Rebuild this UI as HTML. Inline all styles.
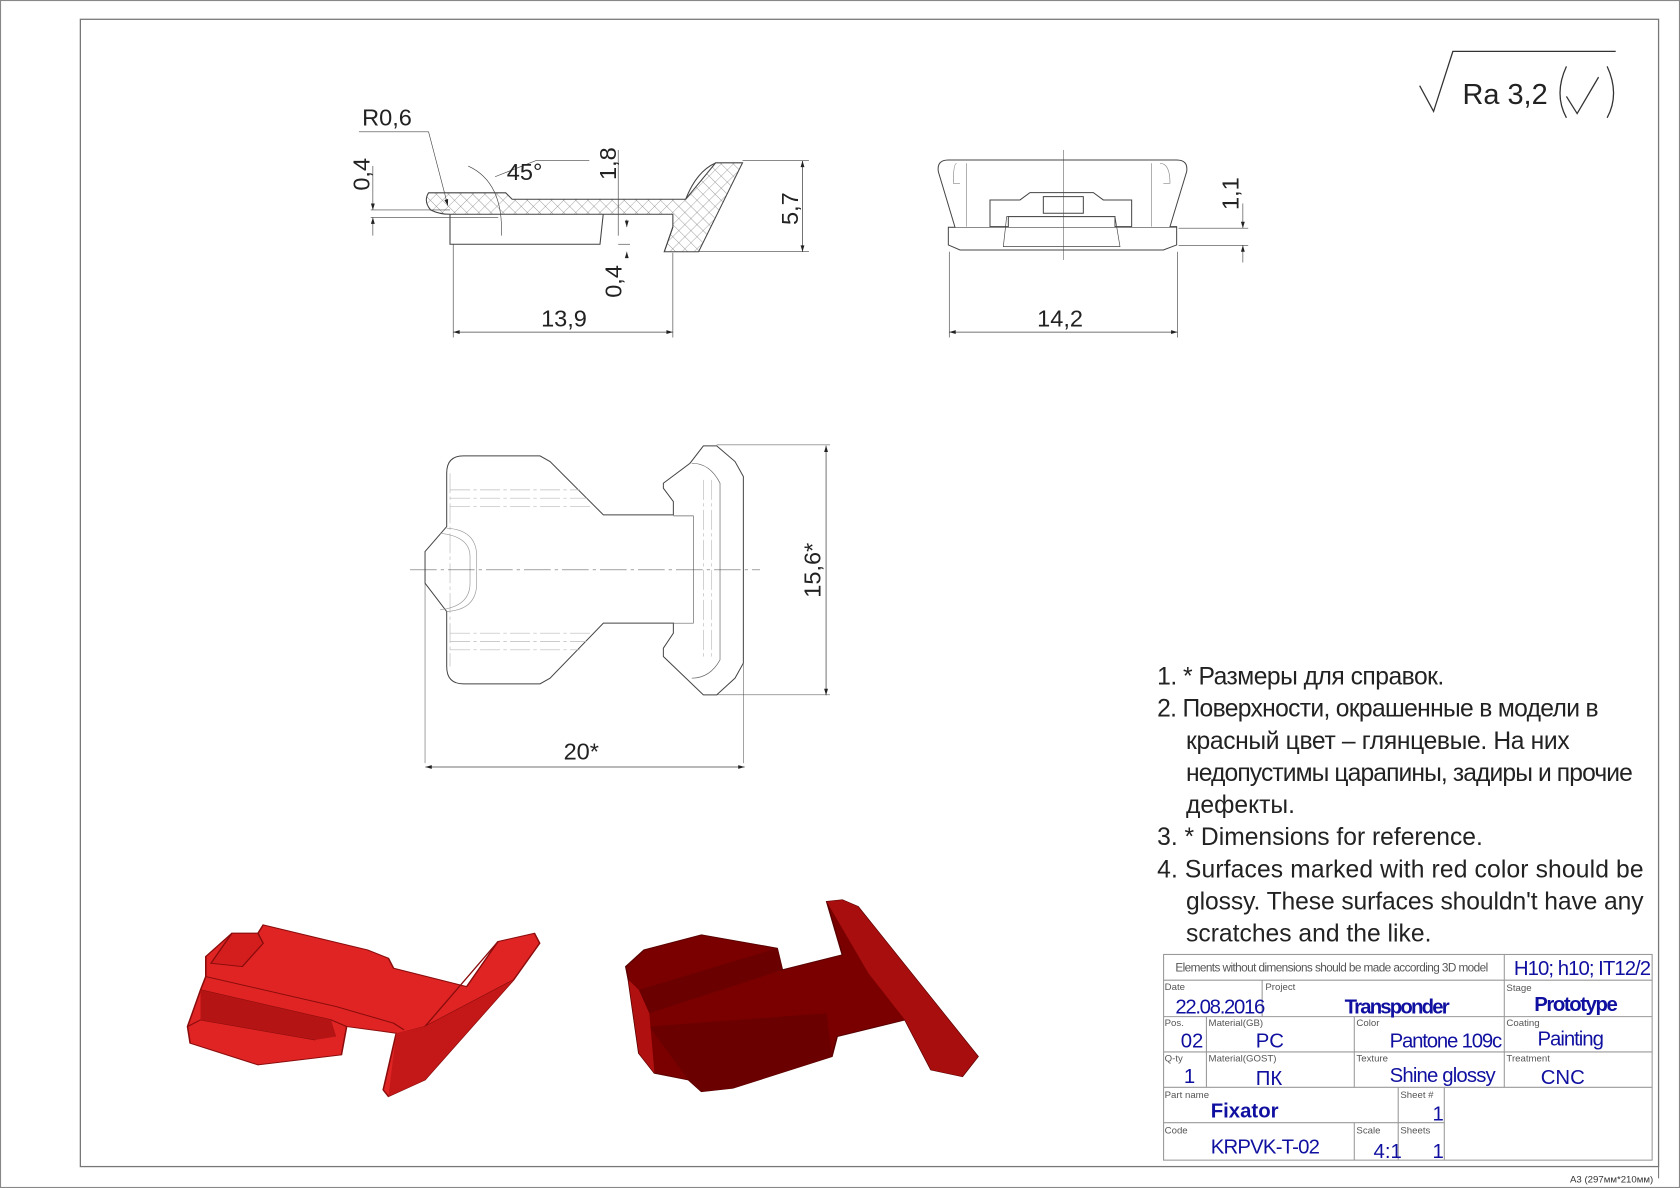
<!DOCTYPE html>
<html><head><meta charset="utf-8"><style>
html,body{margin:0;padding:0;background:#fff;}
svg{display:block;}
text{font-family:"Liberation Sans Narrow","Liberation Sans",sans-serif;}
</style></head><body>
<svg width="1680" height="1188" viewBox="0 0 1568 1109" preserveAspectRatio="none" xmlns="http://www.w3.org/2000/svg">
<defs>
<pattern id="hx" width="8" height="8" patternUnits="userSpaceOnUse" patternTransform="rotate(45)">
<path d="M0 0H8M0 0V8" stroke="#777" stroke-width="0.6"/>
</pattern>
<marker id="ar" viewBox="0 0 10 10" refX="10" refY="5" markerWidth="10" markerHeight="6" orient="auto-start-reverse" markerUnits="userSpaceOnUse"><path d="M0 2L10 5L0 8z" fill="#222"/></marker>
</defs>
<rect x="0.5" y="0.5" width="1567" height="1108" fill="#fff" stroke="#888"/>
<rect x="75" y="18" width="1473" height="1071" fill="none" stroke="#777" stroke-width="1.2"/>
<line x1="1548" y1="1089" x2="1548" y2="1100" stroke="#777"/>
<text x="1543" y="1104" font-size="9" fill="#333" text-anchor="end">A3 (297мм*210мм)</text>

<g stroke="#333" fill="none" stroke-width="1.2">
<path d="M1325 80L1338 104L1356 48H1508"/>
<path d="M1462 62Q1450 88 1462 110M1500 62Q1512 88 1500 110M1462 90L1472 106L1492 72"/>
</g>
<text x="1365" y="97" font-size="27" fill="#222">Ra 3,2</text>

<g stroke="#444" stroke-width="1" fill="none">
<path d="M400 180H472L478 186H640L668 152H693L652 235H620L628 212L628 200H420Q410 200 402 196Q395 188 400 180Z" fill="url(#hx)"/>
<path d="M420 200V228H560L563 200"/>
<path d="M620 235L628 212"/>
<path d="M640 186Q650 160 668 152"/>
<line x1="423" y1="228" x2="423" y2="315" stroke-width="0.6"/>
<line x1="628" y1="236" x2="628" y2="315" stroke-width="0.6"/>
<line x1="423" y1="310" x2="628" y2="310" stroke-width="0.7" marker-start="url(#ar)" marker-end="url(#ar)"/>
<line x1="693" y1="150" x2="755" y2="150" stroke-width="0.6"/>
<line x1="652" y1="235" x2="755" y2="235" stroke-width="0.6"/>
<line x1="749" y1="150" x2="749" y2="235" stroke-width="0.7" marker-start="url(#ar)" marker-end="url(#ar)"/>
<line x1="346" y1="196" x2="420" y2="196" stroke-width="0.6"/>
<line x1="346" y1="203" x2="465" y2="203" stroke-width="0.6"/>
<line x1="348" y1="155" x2="348" y2="196" stroke-width="0.6" marker-end="url(#ar)"/>
<line x1="348" y1="220" x2="348" y2="203" stroke-width="0.6" marker-end="url(#ar)"/>
<line x1="577" y1="140" x2="577" y2="220" stroke-width="0.6"/>
<line x1="577" y1="228" x2="588" y2="228" stroke-width="0.6"/>
<line x1="585" y1="240" x2="585" y2="235" stroke-width="0.6" marker-end="url(#ar)"/>
<line x1="585" y1="205" x2="585" y2="212" stroke-width="0.6" marker-end="url(#ar)"/>
<path d="M335 123H400L418 192" stroke-width="0.6" marker-end="url(#ar)"/>
<path d="M437 155Q470 170 468 220" stroke-width="0.6"/>
<path d="M462 165L500 150H550" stroke-width="0.6"/>
</g>
<text x="338" y="117" font-size="22" fill="#222">R0,6</text>
<text x="473" y="168" font-size="22" fill="#222">45°</text>
<text x="505" y="305" font-size="22" fill="#222">13,9</text>
<text transform="translate(345,178) rotate(-90)" font-size="22" fill="#222">0,4</text>
<text transform="translate(575,168) rotate(-90)" font-size="22" fill="#222">1,8</text>
<text transform="translate(580,278) rotate(-90)" font-size="22" fill="#222">0,4</text>
<text transform="translate(745,210) rotate(-90)" font-size="22" fill="#222">5,7</text>

<g transform="translate(868,140) scale(0.3111)" stroke="#444" stroke-width="3" fill="none">
<path d="M55 30H740Q775 30 770 65L720 230H740V285L700 300H90L55 285V232H75L25 65Q20 30 55 30Z"/>
<path d="M80 40Q70 40 70 100L90 100M110 40V230M690 40Q720 40 720 100L700 100M665 40V230" stroke-width="2" stroke="#888"/>
<path d="M180 230V150H270L300 128H490L520 150H605V230H555V200H235V230Z"/>
<path d="M340 140H460V190H340Z"/>
<path d="M230 200H555L570 290H220Z" stroke-width="2"/>
<line x1="400" y1="0" x2="400" y2="330" stroke-width="1.5"/>
<line x1="55" y1="232" x2="740" y2="232" stroke-width="2"/>
</g>
<g stroke="#444" fill="none" stroke-width="0.6">
<line x1="886" y1="235" x2="886" y2="315"/>
<line x1="1099" y1="235" x2="1099" y2="315"/>
<line x1="886" y1="310" x2="1099" y2="310" stroke-width="0.7" marker-start="url(#ar)" marker-end="url(#ar)"/>
<line x1="1100" y1="213" x2="1165" y2="213"/>
<line x1="1100" y1="229" x2="1165" y2="229"/>
<line x1="1160" y1="190" x2="1160" y2="213" marker-end="url(#ar)"/>
<line x1="1160" y1="245" x2="1160" y2="229" marker-end="url(#ar)"/>
</g>
<text x="968" y="305" font-size="22" fill="#222">14,2</text>
<text transform="translate(1156,196) rotate(-90)" font-size="22" fill="#222">1,1</text>

<g transform="translate(382.7,401.3) scale(0.3111)" stroke="#444" stroke-width="3" fill="none">
<path d="M110 130Q110 78 160 78H390L420 95L580 255H790V215L760 175V160L840 100L880 48H920L975 95L1000 140V700L975 745L920 795H880L760 680V655L790 610V580H580L420 745L390 762H160Q110 762 110 710V545L45 460V365L110 290Z"/>
<path d="M845 100Q900 100 930 160V690Q900 745 845 745M790 258H850V580H790" stroke="#666" stroke-width="2"/>
<path d="M120 180H510M120 205H530M120 230H545M120 610H545M120 635H530M120 660H510M120 130V710M880 150V690M905 150V690" stroke="#bbb" stroke-width="2" stroke-dasharray="60 10 10 10"/>
<path d="M110 295Q200 300 200 380V460Q200 540 110 545M90 310Q180 320 180 380V460Q180 530 90 540" stroke="#999" stroke-width="2"/>
<line x1="0" y1="420" x2="1050" y2="420" stroke-width="1.5" stroke-dasharray="80 12 10 12"/>
<line x1="45" y1="460" x2="45" y2="1000" stroke-width="1.5"/>
<line x1="1000" y1="700" x2="1000" y2="1000" stroke-width="1.5"/>
<line x1="920" y1="45" x2="1260" y2="45" stroke-width="1.5"/>
<line x1="920" y1="795" x2="1260" y2="795" stroke-width="1.5"/>
</g>
<g stroke="#444" fill="none">
<line x1="771" y1="416" x2="771" y2="649" stroke-width="0.7" marker-start="url(#ar)" marker-end="url(#ar)"/>
<line x1="397" y1="716" x2="695" y2="716" stroke-width="0.7" marker-start="url(#ar)" marker-end="url(#ar)"/>
</g>
<text transform="translate(766,558) rotate(-90)" font-size="22" fill="#222">15,6*</text>
<text x="526" y="709" font-size="22" fill="#222">20*</text>

<g font-size="23" fill="#222">
<text x="1080" y="639" textLength="268">1.  * Размеры для справок.</text>
<text x="1080" y="669" textLength="412">2.  Поверхности, окрашенные в модели в</text>
<text x="1107" y="699" textLength="358">красный цвет – глянцевые. На них</text>
<text x="1107" y="729" textLength="417">недопустимы царапины, задиры и прочие</text>
<text x="1107" y="759">дефекты.</text>
<text x="1080" y="789" textLength="304">3.  * Dimensions for reference.</text>
<text x="1080" y="819" textLength="454">4.  Surfaces marked with red color should be</text>
<text x="1107" y="849" textLength="427">glossy. These surfaces shouldn't have any</text>
<text x="1107" y="879" textLength="229">scratches and the like.</text>
</g>

<g transform="translate(167.7,821.4) scale(0.487,0.3111)">
<path d="M15 440L40 330L50 290L50 230L100 160L150 160L160 135L360 210L400 235L410 265L550 320L610 185L680 160L690 190L640 300L470 600L400 650L390 630L415 460L320 440L310 525L150 555L20 490Z" fill="#e02424" stroke="#8a0c0c" stroke-width="3"/>
<path d="M40 330L290 420L320 440M50 290L300 380L410 430L430 450M15 440L40 420L260 480M420 460L470 440L610 185M470 440L640 300" fill="none" stroke="#8a0c0c" stroke-width="3"/>
<path d="M40 330L290 420L300 470L260 480L40 420Z" fill="#b51414"/>
<path d="M415 460L470 440L640 300L470 600L400 650Z" fill="#c41818"/>
<path d="M100 160L150 160L160 190L120 260L60 250Z" fill="#d41e1e" stroke="#8a0c0c" stroke-width="3"/>
</g>
<g transform="translate(167.7,821.4) scale(0.487,0.3111)">
<path d="M855 260L890 210L1000 165L1145 205L1155 270L1270 225L1240 65L1270 60L1300 80L1530 530L1500 590L1440 570L1390 420L1260 470L1250 530L1060 625L1000 635L975 600L910 580L880 520L860 300Z" fill="#7a0000" stroke="#5a0000" stroke-width="3"/>
<path d="M1240 65L1270 60L1300 80L1530 530L1500 590L1440 570L1390 420L1320 280Z" fill="#a80e0e"/>
<path d="M880 330L1145 205L1155 270L900 400ZM900 440L1240 400L1250 530L1060 625L1000 635L975 600Z" fill="#6a0000"/>
<path d="M860 300L880 330L900 400L910 580L880 520Z" fill="#b01010"/>
</g>

<g stroke="#999" stroke-width="1" fill="none">
<rect x="1086" y="891" width="456" height="192"/>
<line x1="1086" y1="915" x2="1542" y2="915"/>
<line x1="1086" y1="949" x2="1542" y2="949"/>
<line x1="1086" y1="982" x2="1542" y2="982"/>
<line x1="1086" y1="1015" x2="1542" y2="1015"/>
<line x1="1086" y1="1048" x2="1348" y2="1048"/>
<line x1="1404" y1="891" x2="1404" y2="1015"/>
<line x1="1178" y1="915" x2="1178" y2="949"/>
<line x1="1126" y1="949" x2="1126" y2="1015"/>
<line x1="1264" y1="949" x2="1264" y2="1015"/>
<line x1="1305" y1="1015" x2="1305" y2="1083"/>
<line x1="1348" y1="1015" x2="1348" y2="1083"/>
<line x1="1264" y1="1048" x2="1264" y2="1083"/>
</g>
<g fill="#555" font-size="9">
<text x="1097" y="907" font-size="11" textLength="292">Elements without dimensions should be made according 3D model</text>
<text x="1087" y="924">Date</text><text x="1181" y="924">Project</text><text x="1406" y="925">Stage</text>
<text x="1087" y="958">Pos.</text><text x="1128" y="958">Material(GB)</text><text x="1266" y="958">Color</text><text x="1406" y="958">Coating</text>
<text x="1087" y="991">Q-ty</text><text x="1128" y="991">Material(GOST)</text><text x="1266" y="991">Texture</text><text x="1406" y="991">Treatment</text>
<text x="1087" y="1025">Part name</text><text x="1307" y="1025">Sheet #</text>
<text x="1087" y="1058">Code</text><text x="1266" y="1058">Scale</text><text x="1307" y="1058">Sheets</text>
</g>
<g fill="#1010a0" font-size="19">
<text x="1413" y="910" textLength="128">H10; h10; IT12/2</text>
<text x="1097" y="946" textLength="84">22.08.2016</text>
<text x="1255" y="946" font-weight="bold" textLength="98">Transponder</text>
<text x="1432" y="944" font-weight="bold" textLength="78">Prototype</text>
<text x="1102" y="978">02</text>
<text x="1172" y="978">PC</text>
<text x="1297" y="978" textLength="105">Pantone 109c</text>
<text x="1435" y="976" textLength="62">Painting</text>
<text x="1105" y="1011">1</text>
<text x="1172" y="1013">ПК</text>
<text x="1297" y="1010" textLength="99">Shine glossy</text>
<text x="1438" y="1012">CNC</text>
<text x="1130" y="1043" font-weight="bold">Fixator</text>
<text x="1337" y="1046">1</text>
<text x="1130" y="1077" textLength="102">KRPVK-T-02</text>
<text x="1282" y="1081">4:1</text>
<text x="1337" y="1081">1</text>
</g>
</svg>
</body></html>
